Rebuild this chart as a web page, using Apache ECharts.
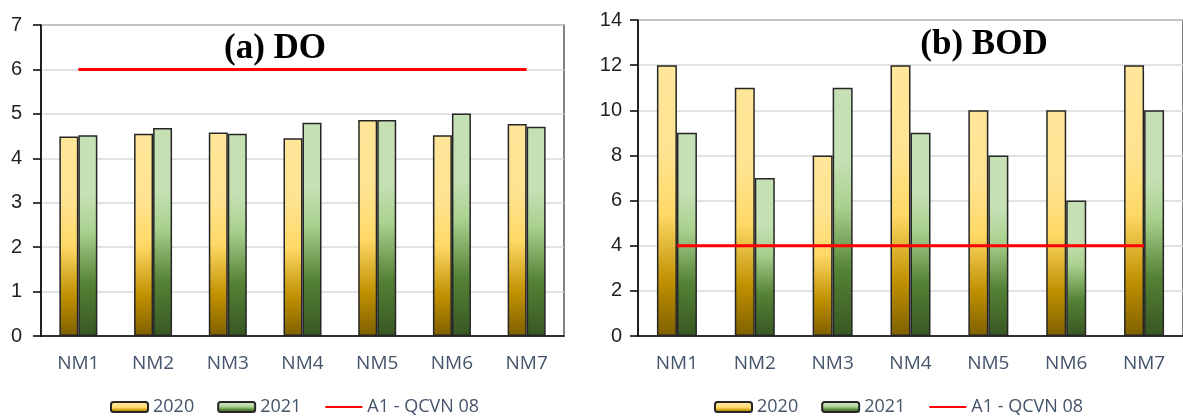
<!DOCTYPE html>
<html>
<head>
<meta charset="utf-8">
<script src="https://cdn.jsdelivr.net/npm/echarts@6/dist/echarts.min.js"></script>
<style>
  html, body { margin: 0; padding: 0; background: #fff; }
  #chart { width: 1183px; height: 417px; }
</style>
</head>
<body>
<div id="chart"></div>
<script>
// Monitoring stations
const stations = ['NM1', 'NM2', 'NM3', 'NM4', 'NM5', 'NM6', 'NM7'];

// Dissolved oxygen (mg/L)
const do2020 = [4.49, 4.55, 4.58, 4.45, 4.86, 4.52, 4.77];
const do2021 = [4.52, 4.68, 4.55, 4.80, 4.86, 5.01, 4.71];
const doLimit = [6, 6, 6, 6, 6, 6, 6];

// Biochemical oxygen demand (mg/L)
const bod2020 = [12, 11, 8, 12, 10, 10, 12];
const bod2021 = [9, 7, 11, 9, 8, 6, 10];
const bodLimit = [4, 4, 4, 4, 4, 4, 4];

const doTicks = { min: 0, max: 7, interval: 1 };
const bodTicks = { min: 0, max: 14, interval: 2 };

const seriesNames = ['2020', '2021', 'A1 - QCVN 08'];
const panelTitles = ['(a) DO', '(b) BOD'];

const grad2020 = new echarts.graphic.LinearGradient(0, 0, 0, 1, [
  { offset: 0, color: '#ffe699' },
  { offset: 0.32, color: '#ffe391' },
  { offset: 0.55, color: '#ffd966' },
  { offset: 0.8, color: '#bf9000' },
  { offset: 1, color: '#7f6000' }
]);
const grad2021 = new echarts.graphic.LinearGradient(0, 0, 0, 1, [
  { offset: 0, color: '#c5e0b4' },
  { offset: 0.3, color: '#c5e0b4' },
  { offset: 0.48, color: '#a9d18e' },
  { offset: 0.74, color: '#548235' },
  { offset: 1, color: '#385723' }
]);

const chart = echarts.init(document.getElementById('chart'), null, { renderer: 'canvas' });

function xAxisFor(gridIndex) {
  return {
    type: 'category',
    gridIndex: gridIndex,
    data: stations,
    axisLine: { lineStyle: { color: '#000', width: 1.5 } },
    axisTick: { show: false },
    axisLabel: { color: '#44546a', fontFamily: 'Open Sans', fontSize: 19, margin: 18 }
  };
}

function yAxisFor(gridIndex, ticks, margin) {
  return {
    type: 'value',
    gridIndex: gridIndex,
    min: ticks.min,
    max: ticks.max,
    interval: ticks.interval,
    axisLine: { show: true, lineStyle: { color: '#000', width: 1.5 } },
    axisTick: { show: true, inside: false, length: 8, lineStyle: { color: '#000', width: 1.5 } },
    axisLabel: { color: '#1f1f1f', fontFamily: 'Liberation Sans', fontSize: 20, margin: margin },
    splitLine: { lineStyle: { color: '#d9d9d9', width: 1.5 } }
  };
}

function barSeries(name, data, idx, grad, width) {
  return {
    name: name,
    type: 'bar',
    xAxisIndex: idx,
    yAxisIndex: idx,
    data: data,
    barWidth: width,
    barGap: '0%',
    itemStyle: { color: grad, borderColor: '#262626', borderWidth: 1.5 }
  };
}

function limitSeries(data, idx) {
  return {
    name: seriesNames[2],
    type: 'line',
    xAxisIndex: idx,
    yAxisIndex: idx,
    data: data,
    symbol: 'none',
    showSymbol: false,
    z: 5,
    itemStyle: { color: '#ff0000' },
    lineStyle: { color: '#ff0000', width: 3 }
  };
}

function legendAt(left) {
  return {
    left: left,
    top: 398,
    padding: 0,
    itemWidth: 37,
    itemHeight: 10,
    itemGap: 23,
    textStyle: { color: '#44546a', fontFamily: 'Open Sans', fontSize: 18 },
    data: [
      { name: seriesNames[0] },
      { name: seriesNames[1] },
      { name: seriesNames[2], lineStyle: { width: 2 }, itemStyle: { opacity: 0 } }
    ]
  };
}

chart.setOption({
  animation: false,
  backgroundColor: '#ffffff',
  grid: [
    { left: 41, top: 25, width: 523, height: 311, show: true, borderColor: '#595959', borderWidth: 1.5 },
    { left: 638, top: 20, width: 547, height: 316, show: true, borderColor: '#595959', borderWidth: 1.5 }
  ],
  xAxis: [xAxisFor(0), xAxisFor(1)],
  yAxis: [yAxisFor(0, doTicks, 19), yAxisFor(1, bodTicks, 16)],
  legend: [legendAt(110), legendAt(714)],
  series: [
    barSeries(seriesNames[0], do2020, 0, grad2020, 19),
    barSeries(seriesNames[1], do2021, 0, grad2021, 19),
    limitSeries(doLimit, 0),
    barSeries(seriesNames[0], bod2020, 1, grad2020, 20),
    barSeries(seriesNames[1], bod2021, 1, grad2021, 20),
    limitSeries(bodLimit, 1)
  ],
  graphic: [
    {
      type: 'text', x: 275, y: 49, z: 10,
      style: { text: panelTitles[0], font: 'bold 35px "Liberation Serif"', fill: '#000', align: 'center', verticalAlign: 'middle' }
    },
    {
      type: 'text', x: 984, y: 45, z: 10,
      style: { text: panelTitles[1], font: 'bold 35px "Liberation Serif"', fill: '#000', align: 'center', verticalAlign: 'middle' }
    }
  ]
});
</script>
</body>
</html>
